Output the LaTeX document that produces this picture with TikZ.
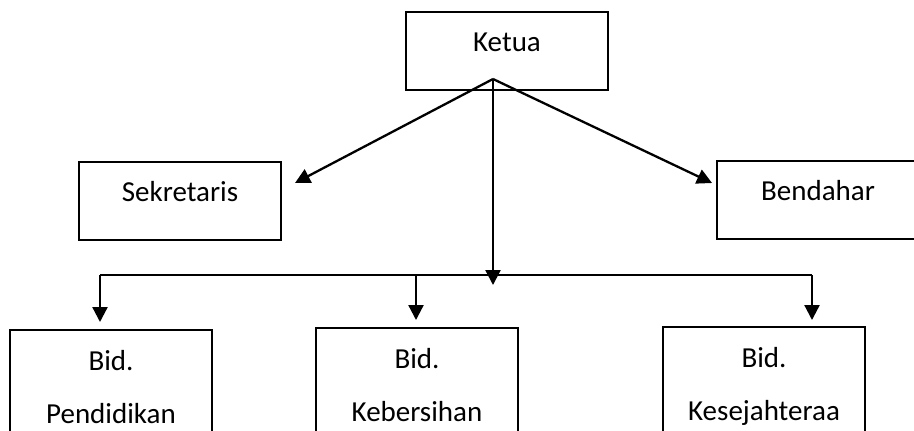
\documentclass[tikz,border=0pt]{standalone}
\usepackage{fontspec}
\setmainfont{Carlito}
\usetikzlibrary{arrows.meta}

\tikzset{
    box/.style={draw, line width=0.9pt, minimum width=101pt, minimum height=39pt,
        text height=10.5pt, text depth=10.5pt, inner sep=0pt},
    bidbox/.style={draw, line width=0.9pt, minimum width=101pt, align=center,
        anchor=north, inner xsep=0pt, inner ysep=10pt},
    arr/.style={line width=1.15pt, -{Triangle[length=7.5pt, width=7.5pt]}}
}

\begin{document}
\begin{tikzpicture}[x=0.5pt, y=-0.5pt, font=\fontsize{14.5}{26.5}\selectfont]
    \clip (0,0) rectangle (914,430);
    \fill[white] (0,0) rectangle (914,430);
    % pengurus inti
    \node[box] (ketua) at (507,51) {Ketua};
    \node[box] (sekretaris) at (180,201) {Sekretaris};
    \node[box] (bendahara) at (818,200) {Bendahar};
    % bidang
    \node[bidbox] (pendidikan) at (111,329) {Bid.\\Pendidikan};
    \node[bidbox] (kebersihan) at (417,327) {Bid.\\Kebersihan};
    \node[bidbox] (kesejahteraan) at (764,326) {Bid.\\Kesejahteraa};
    % titik bantu
    \coordinate (pusat) at (493,79);
    \coordinate (ujungsek) at (295,183);
    \coordinate (ujungbend) at (712,183);
    \coordinate (ujungtengah) at (493,285);
    \coordinate (kiri) at (100,275);
    \coordinate (tengah) at (416,275);
    \coordinate (kanan) at (812,275);
    % garis
    \draw[arr] (pusat) -- (ujungsek);
    \draw[arr] (pusat) -- (ujungbend);
    \draw[arr] (pusat) -- (ujungtengah);
    \draw[line width=1pt] (kiri) -- (kanan);
    \draw[arr, shorten >=3.5pt] (kiri) -- (kiri |- pendidikan.north);
    \draw[arr, shorten >=3.5pt] (tengah) -- (tengah |- kebersihan.north);
    \draw[arr, shorten >=3pt] (kanan) -- (kanan |- kesejahteraan.north);
\end{tikzpicture}
\end{document}
